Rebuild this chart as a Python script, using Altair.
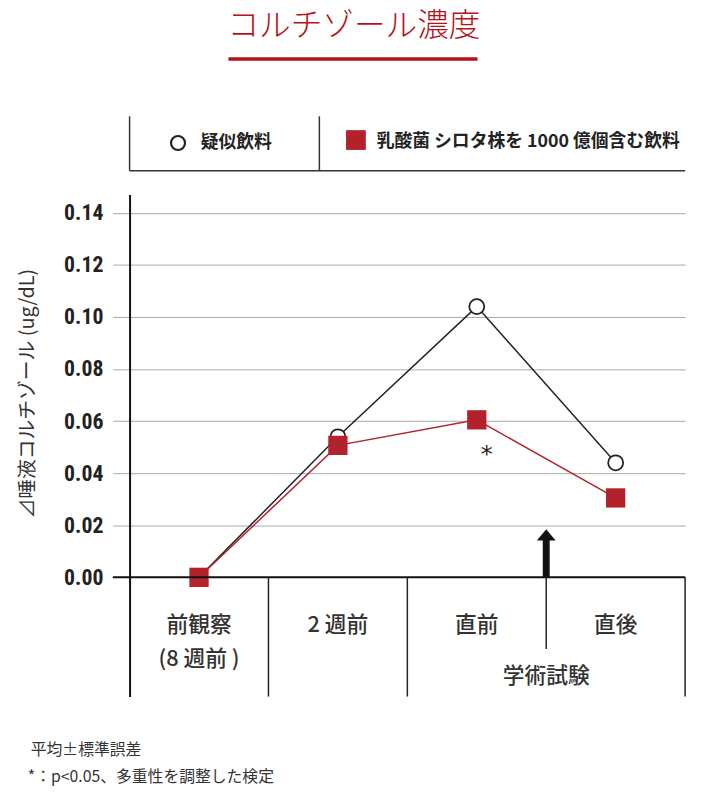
import altair as alt
import pandas as pd

# ---- data ----
categories = ["前観察", "2週前", "直前", "直後"]
cat_labels = ["前観察", "2 週前", "直前", "直後"]
second_line_cat = ["前観察"]
second_line_label = ["(8 週前 )"]
exam_cat = ["直後"]
exam_label = ["学術試験"]
placebo = [0.0, 0.054, 0.104, 0.044]
lcs = [0.0, 0.0507, 0.0605, 0.0305]
y_ticks = [0.0, 0.02, 0.04, 0.06, 0.08, 0.10, 0.12, 0.14]
series_names = ["疑似飲料", "乳酸菌 シロタ株を 1000 億個含む飲料"]
sig_cat = ["直前"]
sig_value = [0.0605]
arrow_cat = ["直後"]
arrow_base = [0.0]
arrow_tip = [0.0163]
divider_cats = ["2週前", "直前"]
title_text = "コルチゾール濃度"
y_title = "⊿唾液コルチゾール (ug/dL)"
notes = ["平均±標準誤差", "*：p<0.05、多重性を調整した検定"]

RED = "#b3222a"
TITLE_RED = "#b5121b"
CJK = "Noto Sans CJK JP"
NUM_FONT = "'Roboto Condensed', 'DejaVu Sans Condensed', 'Liberation Sans Narrow', Roboto, sans-serif"
W, H = 562, 508

xscale = alt.Scale(type="band", domain=categories, paddingInner=0, paddingOuter=0)
yscale = alt.Scale(domain=[-0.0458, 0.1471], nice=False, zero=False)
yaxis = alt.Axis(
    values=y_ticks, format=".2f", grid=True, gridColor="#a8a8a8", gridWidth=1,
    tickSize=17, tickColor="#a8a8a8", tickWidth=1, domainColor="#111", domainWidth=2,
    labelFont=NUM_FONT, labelFontWeight="bold", labelFontSize=22,
    labelColor="#222", labelPadding=10,
    title=y_title, titleFont=CJK, titleFontSize=20, titleFontWeight="normal",
    titleColor="#333", titleAngle=270, titleX=-103, titleY=201,
    titleAlign="center", titleBaseline="middle",
)

def X(bp=None):
    if bp is None:
        return alt.X("cat:N", scale=xscale, axis=None)
    return alt.X("cat:N", scale=xscale, axis=None, bandPosition=bp)

def Y(field="value"):
    return alt.Y(f"{field}:Q", scale=yscale, axis=yaxis)

df_p = pd.DataFrame({"cat": categories, "value": placebo})
df_l = pd.DataFrame({"cat": categories, "value": lcs})
df_one = pd.DataFrame({"k": [0]})

line_p = alt.Chart(df_p).mark_line(color="#222", strokeWidth=1.5).encode(x=X(), y=Y())
line_l = alt.Chart(df_l).mark_line(color=RED, strokeWidth=1.5).encode(x=X(), y=Y())
pts_p = alt.Chart(df_p).mark_point(
    shape="circle", filled=True, fill="white", stroke="#222", strokeWidth=1.8,
    size=230, opacity=1).encode(x=X(), y=Y())
pts_l = alt.Chart(df_l).mark_point(
    shape="square", filled=True, color=RED, size=380, opacity=1).encode(x=X(), y=Y())

# zero line
zero_line = alt.Chart(df_one).mark_rule(color="#111", strokeWidth=2).encode(
    x=alt.value(-17), x2=alt.value(W), y=alt.datum(0))

# table dividers
df_div = pd.DataFrame({"cat": divider_cats})
dividers = alt.Chart(df_div).mark_rule(color="#222", strokeWidth=1.5).encode(
    x=X(0), y=alt.datum(0), y2=alt.value(H))
right_edge = alt.Chart(pd.DataFrame({"cat": [categories[-1]]})).mark_rule(
    color="#222", strokeWidth=1.5).encode(x=X(1), y=alt.datum(0), y2=alt.value(H))
df_exam = pd.DataFrame({"cat": exam_cat, "label": exam_label})
exam_div = alt.Chart(df_exam).mark_rule(color="#222", strokeWidth=1.5).encode(
    x=X(0), y=alt.datum(0), y2=alt.value(460))

lab_style = dict(font=CJK, fontSize=22, fontWeight=500, color="#333", baseline="middle")
labels1 = alt.Chart(pd.DataFrame({"cat": categories, "label": cat_labels})).mark_text(
    **lab_style).encode(x=X(), y=alt.value(436), text="label:N")
labels2 = alt.Chart(pd.DataFrame({"cat": second_line_cat, "label": second_line_label})).mark_text(
    **lab_style).encode(x=X(), y=alt.value(470), text="label:N")
exam_text = alt.Chart(df_exam).mark_text(**lab_style).encode(
    x=X(0), y=alt.value(487), text="label:N")

# significance asterisk
sig = alt.Chart(pd.DataFrame({"cat": sig_cat, "value": sig_value})).mark_text(
    text="*", font="DejaVu Sans", fontSize=24, color="#222", dx=10, dy=36,
    baseline="middle").encode(x=X(), y=Y())

# arrow
df_arrow = pd.DataFrame({"cat": arrow_cat, "base": arrow_base, "tip": arrow_tip})
arrow_shaft = alt.Chart(df_arrow).mark_rule(color="#111", strokeWidth=7).encode(
    x=X(0), y=Y("base"), y2="tip:Q")
arrow_head = alt.Chart(df_arrow).mark_point(
    shape="M-1,0.6L0,-0.6L1,0.6Z", filled=True, color="#111", size=361, opacity=1
).encode(x=X(0), y=Y("tip"))

# title + underline
title = alt.Chart(df_one).mark_text(
    text=title_text, font=CJK, fontSize=32, fontWeight=300, color=TITLE_RED,
    align="center", baseline="middle").encode(x=alt.value(227), y=alt.value(-170))
underline = alt.Chart(df_one).mark_rule(color=TITLE_RED, strokeWidth=3.5).encode(
    x=alt.value(100), x2=alt.value(352), y=alt.value(-137))

# legend box
leg_rule = dict(color="#333", strokeWidth=1.5)
leg_l = alt.Chart(df_one).mark_rule(**leg_rule).encode(
    x=alt.value(0), y=alt.value(-79), y2=alt.value(-24))
leg_m = alt.Chart(df_one).mark_rule(**leg_rule).encode(
    x=alt.value(192), y=alt.value(-79), y2=alt.value(-24))
leg_b = alt.Chart(df_one).mark_rule(**leg_rule).encode(
    x=alt.value(0), x2=alt.value(W), y=alt.value(-24))
leg_c = alt.Chart(df_one).mark_point(
    shape="circle", filled=True, fill="white", stroke="#222", strokeWidth=2.2,
    size=200, opacity=1).encode(x=alt.value(49), y=alt.value(-52))
leg_s = alt.Chart(df_one).mark_point(
    shape="square", filled=True, color=RED, size=400, opacity=1).encode(
    x=alt.value(229), y=alt.value(-55))
leg_style = dict(font=CJK, fontSize=18, fontWeight="bold", color="#222",
                 align="left", baseline="middle")
leg_t1 = alt.Chart(df_one).mark_text(text=series_names[0], **leg_style).encode(
    x=alt.value(72), y=alt.value(-52))
leg_t2 = alt.Chart(df_one).mark_text(text=series_names[1], **leg_style).encode(
    x=alt.value(250), y=alt.value(-53))

# footnotes
note_style = dict(font=CJK, fontSize=16, color="#333", align="left", baseline="middle")
note1 = alt.Chart(df_one).mark_text(text=notes[0], **note_style).encode(
    x=alt.value(-100), y=alt.value(562))
note2 = alt.Chart(df_one).mark_text(text=notes[1], **note_style).encode(
    x=alt.value(-103), y=alt.value(589))

chart = alt.layer(
    line_p, line_l, pts_p, pts_l, zero_line, dividers, right_edge, exam_div,
    labels1, labels2, exam_text, sig, arrow_shaft, arrow_head,
    title, underline, leg_l, leg_m, leg_b, leg_c, leg_s, leg_t1, leg_t2,
    note1, note2,
).properties(
    width=W, height=H, background="white",
    padding={"left": 123, "top": 184, "right": 9, "bottom": 95},
    autosize=alt.AutoSizeParams(type="none"),
).configure_view(stroke=None)

chart.save("out.html", embed_options={"renderer": "svg", "actions": False})
